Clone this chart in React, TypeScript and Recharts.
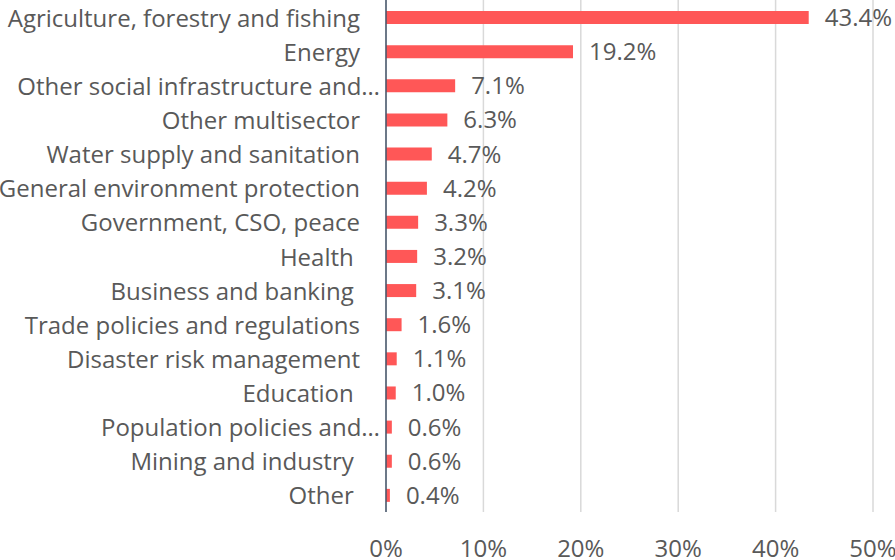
import { BarChart, Bar, XAxis, YAxis, CartesianGrid, LabelList } from 'recharts';

const sectors = [
  'Agriculture, forestry and fishing',
  'Energy',
  'Other social infrastructure and…',
  'Other multisector',
  'Water supply and sanitation',
  'General environment protection',
  'Government, CSO, peace',
  'Health ',
  'Business and banking ',
  'Trade policies and regulations',
  'Disaster risk management',
  'Education ',
  'Population policies and…',
  'Mining and industry ',
  'Other ',
];

const shares = [43.4, 19.2, 7.1, 6.3, 4.7, 4.2, 3.3, 3.2, 3.1, 1.6, 1.1, 1.0, 0.6, 0.6, 0.4];

const xTicks = [0, 10, 20, 30, 40, 50];

const data = sectors.map((name, i) => ({ name, value: shares[i] }));

const textColor = '#595959';
const font = '"Open Sans", sans-serif';
const fontSize = 24;

function SectorTick({ x, y, payload }: any) {
  const label: string = payload.value;
  // truncated labels run right up to the axis
  const dx = label.endsWith('…') ? 2 : -18;
  return (
    <text
      x={x + dx}
      y={y}
      textAnchor="end"
      dominantBaseline="central"
      fill={textColor}
      fontSize={fontSize}
      fontFamily={font}
      style={{ whiteSpace: 'pre' }}
    >
      {label}
    </text>
  );
}

export default function App() {
  return (
    <div style={{ position: 'absolute', left: 0, top: 0, background: '#fff' }}>
      <BarChart
        width={895}
        height={560}
        data={data}
        layout="vertical"
        margin={{ top: 0, right: 22, bottom: 0, left: 0 }}
      >
        <CartesianGrid horizontal={false} stroke="#D9D9D9" strokeWidth={1.5} />
        <XAxis
          type="number"
          domain={[0, 50]}
          ticks={xTicks}
          tickFormatter={(v: number) => `${v}%`}
          axisLine={false}
          tickLine={false}
          tickSize={0}
          tickMargin={28}
          height={48}
          tick={{ fill: textColor, fontSize, fontFamily: font }}
        />
        <YAxis
          type="category"
          dataKey="name"
          width={386}
          axisLine={{ stroke: '#44546A', strokeWidth: 1.5 }}
          tickLine={false}
          tick={<SectorTick />}
          interval={0}
        />
        <Bar dataKey="value" fill="#FF5757" barSize={13} isAnimationActive={false}>
          <LabelList
            dataKey="value"
            position="right"
            offset={16}
            formatter={(v: any) => `${Number(v).toFixed(1)}%`}
            fill={textColor}
            fontSize={fontSize}
            fontFamily={font}
          />
        </Bar>
      </BarChart>
    </div>
  );
}
